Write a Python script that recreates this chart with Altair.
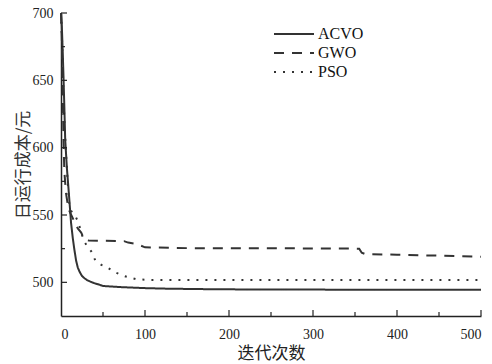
import altair as alt
import pandas as pd

# ---- data ----
acvo_x = [0, 1, 2, 3, 4, 5, 7, 9, 12, 14, 16, 18, 20, 22, 25, 28, 31, 35, 40, 45, 50, 60, 70, 88, 100, 126, 150, 190, 250, 300, 400, 500]
acvo_y = [700, 690, 672, 652, 630, 606, 585, 569, 544, 533, 524, 516, 511, 508, 504.7, 503, 501.7, 500.5, 499.3, 498.4, 497.3, 496.9, 496.5, 496, 495.7, 495.3, 495.1, 494.8, 494.7, 494.6, 494.5, 494.5]

gwo_x = [0, 1, 2, 3, 4, 6, 8, 10, 13, 16, 20, 24, 27, 30, 33, 75, 80, 90, 100, 150, 200, 300, 355, 358, 362, 400, 450, 500]
gwo_y = [700, 682, 645, 605, 582, 566, 558, 553, 549, 545, 540, 537, 533, 531.5, 531, 530.6, 529.5, 528.5, 526, 525.4, 525.3, 525.2, 525, 522, 521, 520.5, 519.8, 519]

pso_x = [0, 1, 2, 3, 4, 6, 8, 10, 12, 15, 18, 21, 24, 28, 32, 36, 41, 48, 54, 64, 76, 90, 106, 200, 300, 400, 500]
pso_y = [700, 686, 662, 640, 620, 596, 574, 557, 553, 551.5, 548, 544, 537, 530, 526, 523, 516, 513, 511.5, 507.5, 504.5, 502.3, 501.8, 501.7, 501.7, 501.7, 501.7]

series_names = ["ACVO", "GWO", "PSO"]

y_major = [500, 550, 600, 650, 700]
y_minor = [525, 575, 625, 675]
x_major = [100, 200, 300, 400, 500]
x_minor = [50, 150, 250, 350, 450]
x_labels = [0, 100, 200, 300, 400, 500]

rows = []
for name, xs, ys in [("ACVO", acvo_x, acvo_y), ("GWO", gwo_x, gwo_y), ("PSO", pso_x, pso_y)]:
    for a, b in zip(xs, ys):
        rows.append({"iter": a, "cost": b, "algo": name})
df = pd.DataFrame(rows)

W, H = 420, 303
INK = "#333333"
SERIF = "Liberation Serif"
CJK = "Noto Sans CJK SC"

xscale = alt.Scale(domain=[0, 500], nice=False, zero=False)
yscale = alt.Scale(domain=[475, 700], nice=False, zero=False)

lines = alt.Chart(df).mark_line(strokeWidth=2, color=INK, strokeCap="butt").encode(
    x=alt.X("iter:Q", scale=xscale,
            axis=alt.Axis(title="迭代次数", values=x_labels, ticks=False, grid=False,
                          domainColor="#222222", domainWidth=1.5,
                          labelFont=SERIF, labelFontSize=14, labelColor="#222222",
                          labelPadding=11, titleFont=CJK, titleFontSize=17,
                          titleFontWeight="normal", titleColor="#222222", titlePadding=4)),
    y=alt.Y("cost:Q", scale=yscale,
            axis=alt.Axis(title="日运行成本/元", values=y_major, ticks=False, grid=False,
                          domainColor="#222222", domainWidth=1.5,
                          labelFont=SERIF, labelFontSize=14, labelColor="#222222",
                          labelPadding=8, titleFont=CJK, titleFontSize=17,
                          titleFontWeight="normal", titleColor="#333333", titlePadding=0)),
    strokeDash=alt.StrokeDash(
        "algo:N",
        scale=alt.Scale(domain=series_names, range=[[1, 0], [10, 8], [2, 7]]),
        legend=alt.Legend(title=None, orient="none", legendX=222, legendY=10,
                          symbolType="M-2,0H2", symbolSize=400, symbolStrokeWidth=2,
                          symbolStrokeColor=INK, symbolFillColor="transparent",
                          labelFont=SERIF, labelFontSize=16,
                          labelColor="#111111", labelOffset=13, rowPadding=0),
    ),
    order=alt.Order("iter:Q"),
)

ymaj = pd.DataFrame({"v": y_major})
ymin = pd.DataFrame({"v": y_minor})
xmaj = pd.DataFrame({"v": x_major})
xmin = pd.DataFrame({"v": x_minor})

ytick_major = alt.Chart(ymaj).mark_rule(color="#222222", strokeWidth=1.2).encode(
    y=alt.Y("v:Q", scale=yscale), x=alt.value(0), x2=alt.value(6))
ytick_minor = alt.Chart(ymin).mark_rule(color="#222222", strokeWidth=1.2).encode(
    y=alt.Y("v:Q", scale=yscale), x=alt.value(0), x2=alt.value(4))
xtick_major = alt.Chart(xmaj).mark_rule(color="#222222", strokeWidth=1.2).encode(
    x=alt.X("v:Q", scale=xscale), y=alt.value(H), y2=alt.value(H - 6))
xtick_minor = alt.Chart(xmin).mark_rule(color="#222222", strokeWidth=1.2).encode(
    x=alt.X("v:Q", scale=xscale), y=alt.value(H), y2=alt.value(H - 4))

chart = alt.layer(lines, ytick_major, ytick_minor, xtick_major, xtick_minor).properties(
    width=W, height=H,
    autosize=alt.AutoSizeParams(type="none"),
    padding={"left": 61, "top": 13, "right": 11, "bottom": 48},
    background="white",
).configure_view(stroke=None)

chart.save("out.html", embed_options={"renderer": "svg", "actions": False})
